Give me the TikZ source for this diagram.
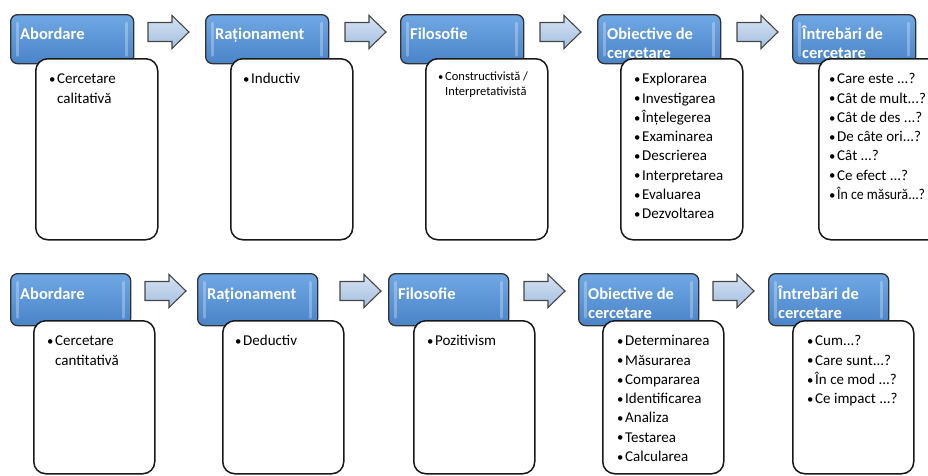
\documentclass[tikz,border=0pt]{standalone}
\usepackage{fontspec}
\setmainfont{Carlito}
\usepackage{graphicx}
\definecolor{hdrtop}{RGB}{112,168,228}
\definecolor{hdrmid}{RGB}{88,148,214}
\definecolor{hdrbot}{RGB}{74,132,200}
\definecolor{hdrline}{RGB}{50,50,50}
\definecolor{arrtop}{RGB}{214,227,243}
\definecolor{arrbot}{RGB}{164,190,224}
\definecolor{arrline}{RGB}{70,70,70}
\newcommand\bul{\makebox[8pt][l]{\raisebox{0.3pt}{\scalebox{0.85}{•}}}}
\newcommand\hang{\hspace*{8pt}}
\newcommand\barrow[2]{\draw[arr] (#1,#2-9.5) -- (#1+24,#2-9.5) -- (#1+24,#2-16.5) -- (#1+41,#2) -- (#1+24,#2+16.5) -- (#1+24,#2+9.5) -- (#1,#2+9.5) -- cycle;}
\tikzset{
  hdr/.style={draw=hdrline, line width=1.3pt, rounded corners=7pt, top color=hdrtop, middle color=hdrmid, bottom color=hdrbot, inner sep=0pt, anchor=north west},
  bodybox/.style={draw=black!90, fill=white, line width=1.5pt, rounded corners=12pt, inner sep=0pt, anchor=north west},
  hl/.style={white, opacity=0.28, line width=3pt, line cap=round},
  htxt/.style={anchor=north west, inner sep=0pt, align=left, text=white, font=\fontsize{16.5}{19}\selectfont\bfseries},
  btxt/.style={anchor=north west, inner sep=0pt, align=left, text=black, font=\fontsize{15}{19.3}\selectfont},
  arr/.style={draw=arrline, line width=1.1pt, top color=arrtop, bottom color=arrbot, line join=miter}
}
\begin{document}
\begin{tikzpicture}[x=1pt,y=-1pt]
\useasboundingbox (0,0) rectangle (928,475);
\clip (0,0) rectangle (928,475);
% ---------- top row ----------
\foreach \n/\hx in {1/10, 2/205, 3/400, 4/597, 5/792}{
  \node[hdr, minimum width=123pt, minimum height=49pt] (th\n) at (\hx,14) {};
  \draw[hl] ([xshift=7pt,yshift=-9pt]th\n.north west) -- ([xshift=7pt,yshift=9pt]th\n.south west);
  \draw[hl] ([xshift=-8pt,yshift=-9pt]th\n.north east) -- ([xshift=-8pt,yshift=9pt]th\n.south east);
}
\node[htxt] (tt1) at ([xshift=10pt,yshift=-12pt]th1.north west) {\strut Abordare};
\node[htxt] (tt2) at ([xshift=10pt,yshift=-12pt]th2.north west) {\strut Raționament};
\node[htxt] (tt3) at ([xshift=10pt,yshift=-12pt]th3.north west) {\strut Filosofie};
\node[htxt] (tt4) at ([xshift=10pt,yshift=-12pt]th4.north west) {\strut Obiective de\\cercetare};
\node[htxt] (tt5) at ([xshift=10pt,yshift=-12pt]th5.north west) {\strut Întrebări de\\cercetare};
\foreach \n/\bx in {1/35, 2/230, 3/425, 4/620, 5/818}{
  \node[bodybox, minimum width=122pt, minimum height=181pt] (tb\n) at (\bx,58) {};
}
\node[btxt] (tx1) at ([xshift=14pt,yshift=-12pt]tb1.north west) {\strut\bul Cercetare\\\hang calitativă};
\node[btxt] (tx2) at ([xshift=13pt,yshift=-12pt]tb2.north west) {\strut\bul Inductiv};
\node[btxt, font=\fontsize{12.5}{15.5}\selectfont] (tx3) at ([xshift=13pt,yshift=-11pt]tb3.north west) {\strut\makebox[7pt][l]{\scalebox{0.85}{•}}Constructivistă /\\\hspace*{7pt}Interpretativistă};
\node[btxt] (tx4) at ([xshift=14pt,yshift=-12pt]tb4.north west) {\strut\bul Explorarea\\\bul Investigarea\\\bul Înțelegerea\\\bul Examinarea\\\bul Descrierea\\\bul Interpretarea\\\bul Evaluarea\\\bul Dezvoltarea};
\node[btxt] (tx5) at ([xshift=11pt,yshift=-12pt]tb5.north west) {\strut\bul Care este ...?\\\bul Cât de mult...?\\\bul Cât de des ...?\\\bul De câte ori...?\\\bul Cât ...?\\\bul Ce efect ...?\\\bul \scalebox{0.92}[1]{În ce măsură...?}};
\barrow{148}{32}
\barrow{345}{32}
\barrow{540}{32}
\barrow{737}{32}
% ---------- bottom row ----------
\foreach \n/\hx in {1/10, 2/197, 3/388, 4/578, 5/768}{
  \node[hdr, minimum width=120pt, minimum height=52pt] (bh\n) at (\hx,273) {};
  \draw[hl] ([xshift=7pt,yshift=-9pt]bh\n.north west) -- ([xshift=7pt,yshift=9pt]bh\n.south west);
  \draw[hl] ([xshift=-8pt,yshift=-9pt]bh\n.north east) -- ([xshift=-8pt,yshift=9pt]bh\n.south east);
}
\node[htxt] (bt1) at ([xshift=10pt,yshift=-12.5pt]bh1.north west) {\strut Abordare};
\node[htxt] (bt2) at ([xshift=10pt,yshift=-12.5pt]bh2.north west) {\strut Raționament};
\node[htxt] (bt3) at ([xshift=10pt,yshift=-12.5pt]bh3.north west) {\strut Filosofie};
\node[htxt] (bt4) at ([xshift=10pt,yshift=-12.5pt]bh4.north west) {\strut Obiective de\\cercetare};
\node[htxt] (bt5) at ([xshift=10pt,yshift=-12.5pt]bh5.north west) {\strut Întrebări de\\cercetare};
\foreach \n/\bx in {1/33, 2/222, 3/413, 4/602, 5/792}{
  \node[bodybox, minimum width=121pt, minimum height=153pt] (bb\n) at (\bx,320) {};
}
\node[btxt] (bx1) at ([xshift=14pt,yshift=-12pt]bb1.north west) {\strut\bul Cercetare\\\hang cantitativă};
\node[btxt] (bx2) at ([xshift=13pt,yshift=-12pt]bb2.north west) {\strut\bul Deductiv};
\node[btxt] (bx3) at ([xshift=14pt,yshift=-12pt]bb3.north west) {\strut\bul Pozitivism};
\node[btxt] (bx4) at ([xshift=15pt,yshift=-12pt]bb4.north west) {\strut\bul Determinarea\\\bul Măsurarea\\\bul Compararea\\\bul Identificarea\\\bul Analiza\\\bul Testarea\\\bul Calcularea};
\node[btxt] (bx5) at ([xshift=15pt,yshift=-12pt]bb5.north west) {\strut\bul Cum...?\\\bul Care sunt...?\\\bul În ce mod ...?\\\bul Ce impact ...?};
\barrow{145}{291}
\barrow{340}{291}
\barrow{524}{291}
\barrow{713}{291}
\end{tikzpicture}
\end{document}
